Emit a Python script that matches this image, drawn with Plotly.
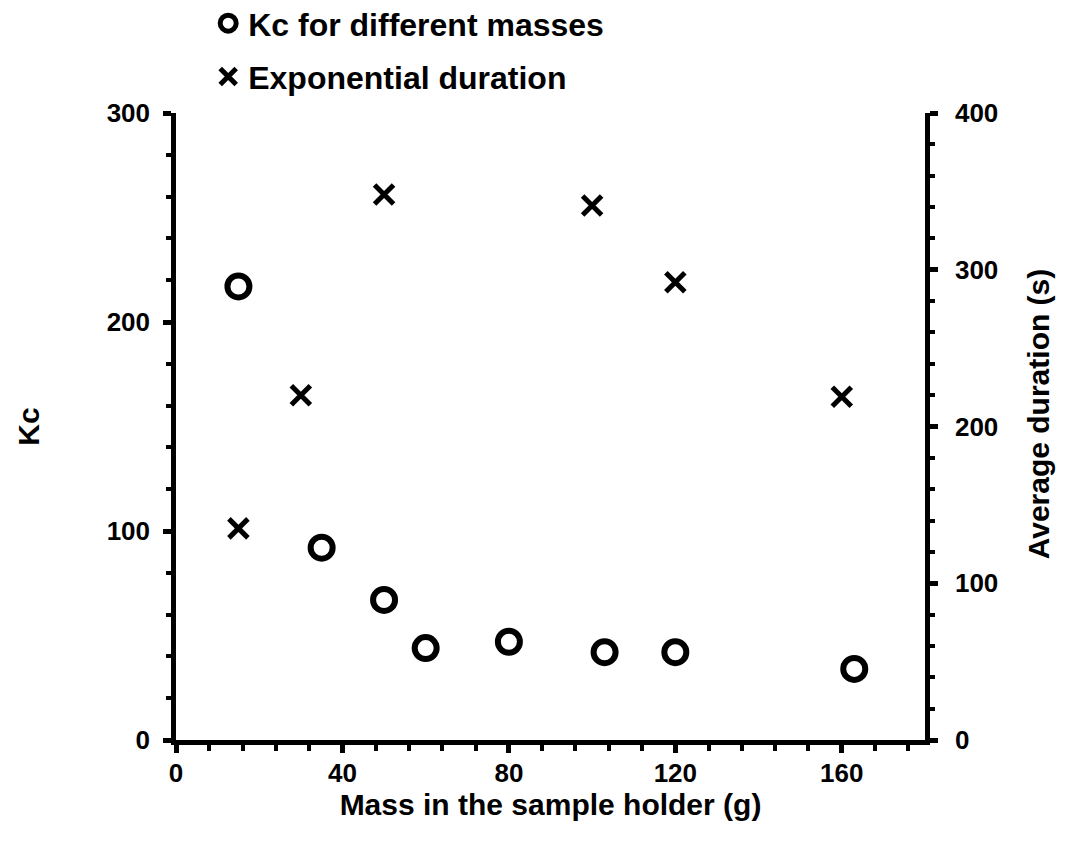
import plotly.graph_objects as go

# Kc measured for each mass placed in the sample holder
mass_kc = [15, 35, 50, 60, 80, 103, 120, 163]
kc_values = [217, 92, 67, 44, 47, 42, 42, 34]

# Average duration of the exponential phase (s)
mass_dur = [15, 30, 50, 100, 120, 160]
duration_values = [135, 220, 348, 341, 292, 219]

kc_label = "Kc for different masses"
dur_label = "Exponential duration"
x_title = "Mass in the sample holder (g)"
y_title = "Kc"
y2_title = "Average duration (s)"

FONT = "Liberation Sans, Arial, sans-serif"
BLACK = "#000000"

fig = go.Figure()

fig.add_trace(go.Scatter(
    x=mass_kc, y=kc_values, mode="markers", name=kc_label,
    marker=dict(symbol="circle-open", size=22, color=BLACK,
                line=dict(width=6, color=BLACK)),
    legend="legend", yaxis="y",
))

fig.add_trace(go.Scatter(
    x=mass_dur, y=duration_values, mode="markers", name=dur_label,
    marker=dict(symbol="x-thin-open", size=19, color=BLACK,
                line=dict(width=5, color=BLACK)),
    legend="legend2", yaxis="y2",
))

tick_font = dict(family=FONT, size=26, color=BLACK, weight="bold")
title_font = dict(family=FONT, size=30, color=BLACK, weight="bold")

axis_common = dict(
    showline=True, linecolor=BLACK, linewidth=4.5, showgrid=False,
    zeroline=False, ticks="outside", ticklen=8, tickwidth=4.5, tickcolor=BLACK,
    tickfont=tick_font,
)

legend_common = dict(
    orientation="v", xanchor="left", yanchor="middle",
    bgcolor="rgba(0,0,0,0)", itemwidth=30,
    font=dict(family=FONT, size=32, color=BLACK, weight="bold"),
)

fig.update_layout(
    width=1084, height=858,
    margin=dict(l=175.5, r=158.5, t=113, b=118, autoexpand=False),
    paper_bgcolor="white", plot_bgcolor="white",
    showlegend=True,
    xaxis=dict(
        range=[0, 180], dtick=40, tick0=0,
        minor=dict(dtick=8, ticks="outside", ticklen=6, tickwidth=3.5, tickcolor=BLACK),
        ticklabelstandoff=-2,
        title=dict(text=x_title, standoff=4, font=title_font),
        **axis_common,
    ),
    yaxis=dict(
        range=[0, 300], dtick=100, tick0=0,
        minor=dict(dtick=20, ticks="outside", ticklen=5, tickwidth=3.5, tickcolor=BLACK),
        ticklabelstandoff=8,
        title=dict(text=y_title, standoff=60, font=title_font),
        **axis_common,
    ),
    yaxis2=dict(
        range=[0, 400], dtick=100, tick0=0, overlaying="y", side="right",
        minor=dict(dtick=20, ticks="outside", ticklen=5, tickwidth=3.5, tickcolor=BLACK),
        ticklabelstandoff=12,
        **axis_common,
    ),
    annotations=[dict(
        text=y2_title, textangle=-90, showarrow=False,
        xref="paper", yref="paper", x=1.1527, y=0.52,
        xanchor="center", yanchor="middle", font=title_font,
    )],
    legend=dict(x=0.043, y=1.143, **legend_common),
    legend2=dict(x=0.043, y=1.058, **legend_common),
)

fig.write_html("out.html")
